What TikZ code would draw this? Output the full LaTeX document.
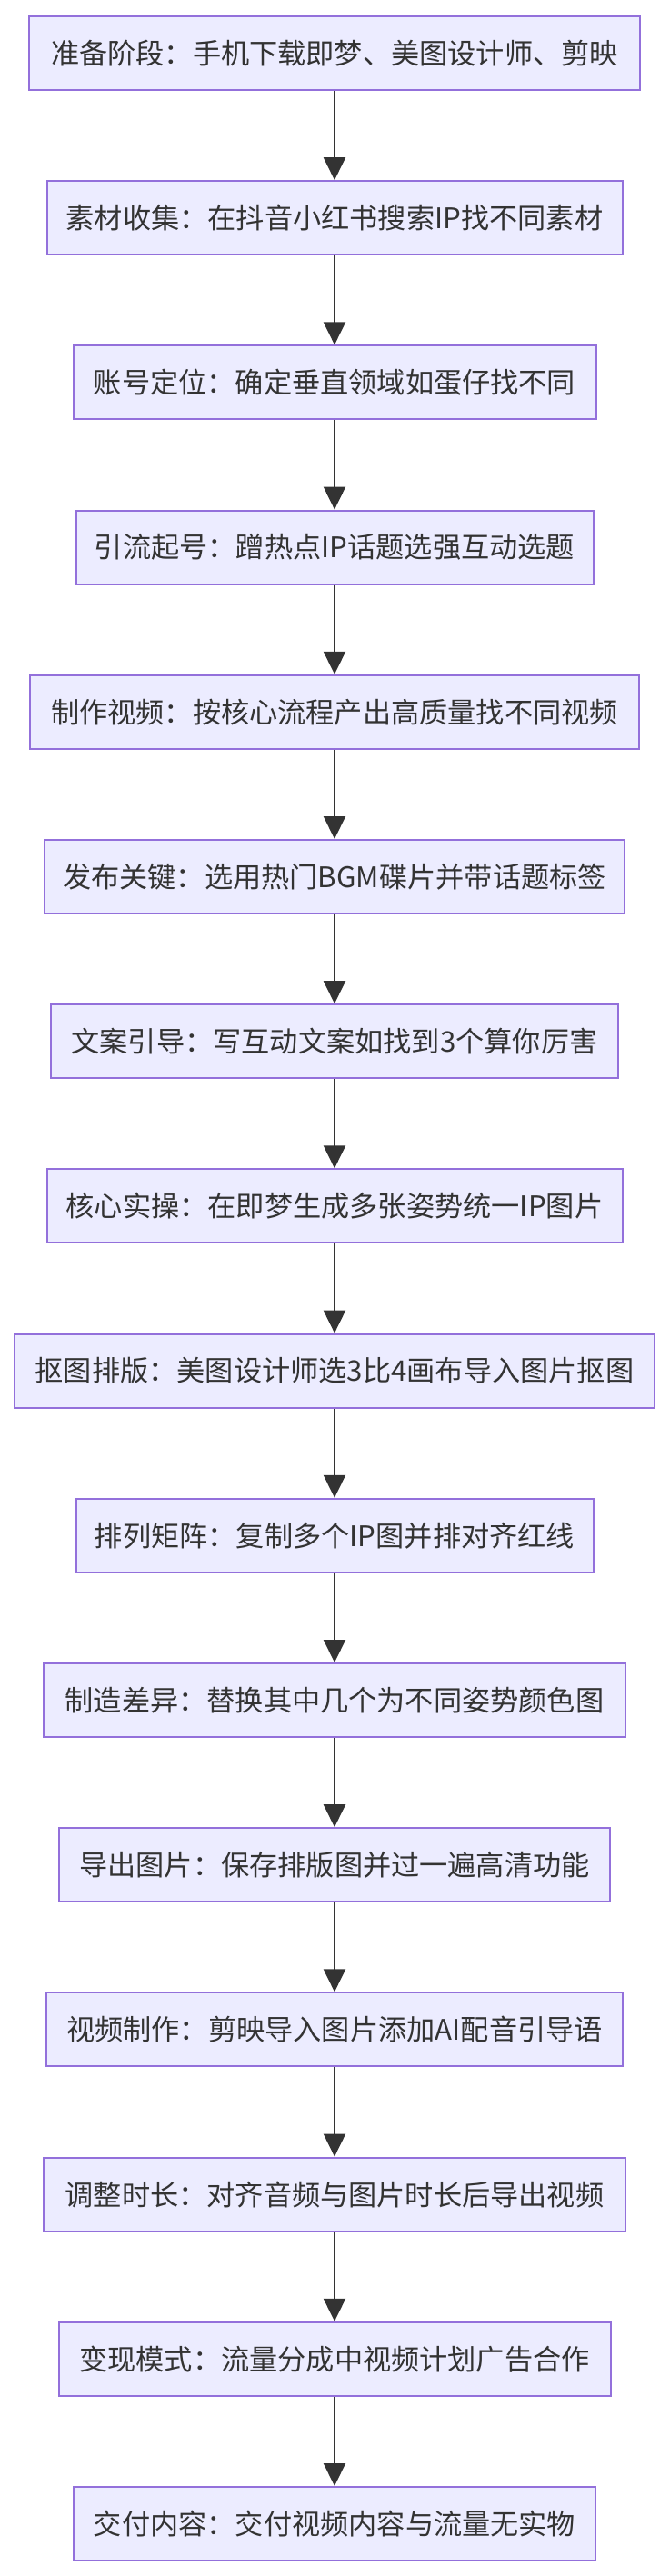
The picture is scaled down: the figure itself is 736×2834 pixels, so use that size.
\documentclass[tikz,border=0pt]{standalone}
\usepackage{fontspec}
\setmainfont{Noto Sans CJK SC}
\usetikzlibrary{arrows.meta}
\definecolor{boxfill}{HTML}{ECECFF}
\definecolor{boxline}{HTML}{9370DB}
\definecolor{ink}{HTML}{333333}
\tikzset{
  stepbox/.style={draw=boxline, fill=boxfill, line width=1pt, text=ink,
    font=\fontsize{15.6pt}{18pt}\selectfont, minimum height=40.5pt,
    inner xsep=0pt, inner ysep=0pt, align=center},
  wd/.style={minimum width=#1*0.5pt},
  flow/.style={draw=ink, line width=1pt, -{Triangle[length=12.5pt,width=12pt]}}
}
\begin{document}
\begin{tikzpicture}[x=0.5pt,y=-0.5pt]
\useasboundingbox (0,0) rectangle (736,2834);
\node[stepbox,wd=672] (n0)  at (368,58.5)   {准备阶段：手机下载即梦、美图设计师、剪映};
\node[stepbox,wd=633] (n1)  at (368,239.7)  {素材收集：在抖音小红书搜索IP找不同素材};
\node[stepbox,wd=575] (n2)  at (368,420.9)  {账号定位：确定垂直领域如蛋仔找不同};
\node[stepbox,wd=569] (n3)  at (368,602.1)  {引流起号：蹭热点IP话题选强互动选题};
\node[stepbox,wd=670] (n4)  at (368,783.3)  {制作视频：按核心流程产出高质量找不同视频};
\node[stepbox,wd=638] (n5)  at (368,964.5)  {发布关键：选用热门BGM碟片并带话题标签};
\node[stepbox,wd=624] (n6)  at (368,1145.7) {文案引导：写互动文案如找到3个算你厉害};
\node[stepbox,wd=633] (n7)  at (368,1326.9) {核心实操：在即梦生成多张姿势统一IP图片};
\node[stepbox,wd=704] (n8)  at (368,1508.1) {抠图排版：美图设计师选3比4画布导入图片抠图};
\node[stepbox,wd=569] (n9)  at (368,1689.3) {排列矩阵：复制多个IP图并排对齐红线};
\node[stepbox,wd=640] (n10) at (368,1870.5) {制造差异：替换其中几个为不同姿势颜色图};
\node[stepbox,wd=606] (n11) at (368,2051.7) {导出图片：保存排版图并过一遍高清功能};
\node[stepbox,wd=634] (n12) at (368,2232.9) {视频制作：剪映导入图片添加AI配音引导语};
\node[stepbox,wd=640] (n13) at (368,2414.1) {调整时长：对齐音频与图片时长后导出视频};
\node[stepbox,wd=607] (n14) at (368,2595.3) {变现模式：流量分成中视频计划广告合作};
\node[stepbox,wd=574] (n15) at (368,2776.5) {交付内容：交付视频内容与流量无实物};
\foreach \a/\b in {n0/n1,n1/n2,n2/n3,n3/n4,n4/n5,n5/n6,n6/n7,n7/n8,n8/n9,n9/n10,n10/n11,n11/n12,n12/n13,n13/n14,n14/n15}
  \draw[flow] (\a) -- (\b);
\end{tikzpicture}
\end{document}
